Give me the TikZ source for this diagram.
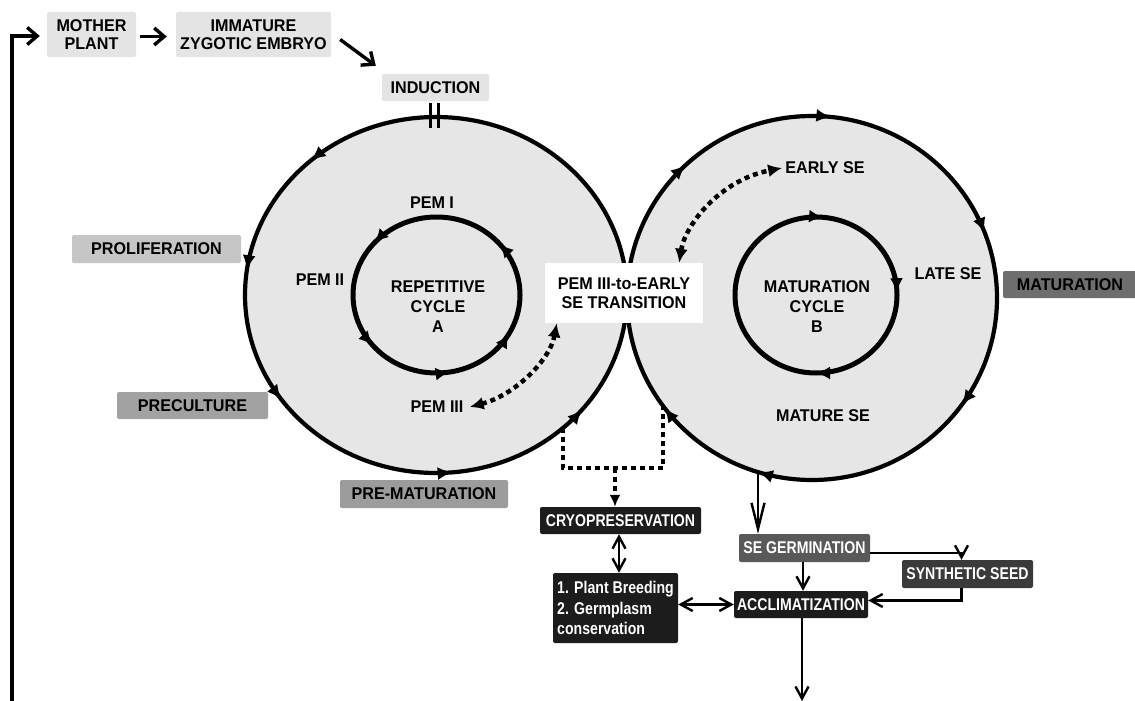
\documentclass[tikz,border=0pt]{standalone}
\usepackage{fontspec}
\setmainfont{Liberation Sans}
\newfontfamily\labfont[FakeStretch=0.95]{Liberation Sans}
\newfontfamily\boxfont[FakeStretch=0.83]{Liberation Sans}
\usetikzlibrary{arrows.meta,calc}
\definecolor{circfill}{HTML}{E6E6E6}
\definecolor{lightbox}{HTML}{E4E4E4}
\definecolor{proliffill}{HTML}{C6C6C6}
\definecolor{precfill}{HTML}{A2A2A2}
\definecolor{prematfill}{HTML}{9C9C9C}
\definecolor{matfill}{HTML}{6E6E6E}
\definecolor{germfill}{HTML}{595959}
\definecolor{synthfill}{HTML}{3A3A3A}
\definecolor{boxblack}{HTML}{1C1C1C}
\newcommand\carr[6]{\draw[carrow] ([shift={(#1,#2)}]#5:#3 and #4) arc[start angle=#5, end angle=#6, x radius=#3, y radius=#4];}
\newcommand\icarr[6]{\draw[icarrow] ([shift={(#1,#2)}]#5:#3 and #4) arc[start angle=#5, end angle=#6, x radius=#3, y radius=#4];}
\tikzset{
 lab/.style={font={\labfont\fontsize{17}{20}\selectfont\bfseries}, align=center, inner sep=0pt},
 gbox/.style={lab, rounded corners=2pt, minimum height=27pt},
 dbox/.style={font={\boxfont\fontsize{17}{20}\selectfont\bfseries}, text=white, rounded corners=2pt, inner sep=0pt, align=center},
 outring/.style={line width=4.2pt},
 inring/.style={line width=5pt},
 carrow/.style={line width=3pt, -{Latex[length=15pt,width=13pt]}},
 icarrow/.style={line width=3pt, -{Latex[length=14pt,width=13pt]}},
 dotline/.style={line width=4.5pt, dash pattern=on 5pt off 4pt},
 conn/.style={line width=2.4pt},
 barb/.style={-{Straight Barb[length=12pt,width=13pt,line width=2.4pt]}},
 dbarb/.style={{Straight Barb[length=12pt,width=13pt,line width=2.4pt]}-{Straight Barb[length=12pt,width=13pt,line width=2.4pt]}},
 bigconn/.style={line width=3.4pt, -{Straight Barb[length=10pt,width=17pt,line width=3.4pt]}}
}
\begin{document}
\begin{tikzpicture}[x=1pt,y=-1pt]
\useasboundingbox (0,0) rectangle (1135,701);
\fill[white] (0,0) rectangle (1135,701);

% circles
\fill[circfill] (436,295) ellipse [x radius=191, y radius=178];
\fill[circfill] (812,298) ellipse [x radius=185, y radius=182];
\draw[outring] (436,295) ellipse [x radius=191, y radius=178];
\draw[outring] (812,298) ellipse [x radius=185, y radius=182];
\draw[inring] (436.5,295) ellipse [x radius=83.5, y radius=78];
\draw[inring] (816,295) ellipse [x radius=81, y radius=78];

% arrows on left outer circle (counterclockwise on screen)
\carr{436}{295}{191}{178}{239}{229}
\carr{436}{295}{191}{178}{198}{188}
\carr{436}{295}{191}{178}{154}{144}
\carr{436}{295}{191}{178}{95}{85}
\carr{436}{295}{191}{178}{50}{40}
% arrows on right outer circle (clockwise on screen)
\carr{812}{298}{185}{182}{217}{227}
\carr{812}{298}{185}{182}{266}{276}
\carr{812}{298}{185}{182}{329}{339}
\carr{812}{298}{185}{182}{26}{36}
\carr{812}{298}{185}{182}{97}{107}
\carr{812}{298}{185}{182}{133}{143}
% inner circle A (counterclockwise)
\icarr{436.5}{295}{83.5}{78}{238}{222}
\icarr{436.5}{295}{83.5}{78}{335}{319}
\icarr{436.5}{295}{83.5}{78}{156}{140}
\icarr{436.5}{295}{83.5}{78}{97}{81}
\icarr{436.5}{295}{83.5}{78}{46}{30}
% inner circle B (clockwise)
\icarr{816}{295}{81}{78}{259}{275}
\icarr{816}{295}{81}{78}{342}{358}
\icarr{816}{295}{81}{78}{74}{90}

% induction mark
\draw[line width=3pt] (430,103) -- (430,128) (438,103) -- (438,128);

% top boxes
\node[gbox, fill=lightbox, minimum width=89pt, minimum height=45pt, font={\labfont\fontsize{17}{18.5}\selectfont\bfseries}] (mother) at (91.5,34.5) {MOTHER\\PLANT};
\node[gbox, fill=lightbox, minimum width=155pt, minimum height=45pt, font={\labfont\fontsize{17}{18.5}\selectfont\bfseries}] (immature) at (253.5,34.5) {IMMATURE\\ZYGOTIC EMBRYO};
\node[gbox, fill=lightbox, minimum width=107pt] (induction) at (435.5,87.5) {INDUCTION};

% side labels
\node[gbox, fill=proliffill, minimum width=169pt, minimum height=28pt] (prolif) at (156.5,249) {PROLIFERATION};
\node[gbox, fill=precfill, minimum width=151pt] (precult) at (192.5,405.5) {PRECULTURE};
\node[gbox, fill=prematfill, minimum width=168pt, minimum height=28pt] (premat) at (424,494) {PRE-MATURATION};
\node[gbox, fill=matfill, minimum width=134pt] (matur) at (1070,284.5) {MATURATION};

% inner texts
\node[lab] (pem1) at (432,203) {PEM I};
\node[lab] (pem2) at (320,280) {PEM II};
\node[lab] (cycA) at (438,307) {REPETITIVE\\CYCLE\\A};
\node[lab] (pem3) at (437,407) {PEM III};
\node[lab] (early) at (825,168) {EARLY SE};
\node[lab] (late) at (948,274) {LATE SE};
\node[lab] (cycB) at (817,307) {MATURATION\\CYCLE\\B};
\node[lab] (mature) at (823,416) {MATURE SE};

% transition box
\node[lab, fill=white, minimum width=158pt, minimum height=60pt, font={\labfont\fontsize{17}{19}\selectfont\bfseries}] (trans) at (624,293) {PEM III-to-EARLY\\SE TRANSITION};

% dotted double arrows
\draw[dotline, {Latex[length=14pt,width=13pt]}-{Latex[length=14pt,width=13pt]}] ([xshift=6pt]pem3.east) .. controls (515,395) and (550,360) .. ($(trans.south west)+(12,0)$);
\draw[dotline, {Latex[length=14pt,width=13pt]}-{Latex[length=14pt,width=13pt]}] ($(trans.north east)+(-24,0)$) .. controls (685,225) and (720,180) .. ([xshift=-3pt]early.west);

% lower boxes
\node[dbox, fill=boxblack, minimum width=161pt, minimum height=27pt] (cryo) at (620.5,520.5) {CRYOPRESERVATION};
\node[dbox, fill=boxblack, minimum width=125pt, minimum height=70pt, align=left, font={\boxfont\fontsize{17}{20.5}\selectfont\bfseries}] (breed) at (615.5,608) {1. Plant Breeding\\2. Germplasm\\conservation};
\node[dbox, fill=germfill, minimum width=131pt, minimum height=28pt] (germ) at (804.5,548) {SE GERMINATION};
\node[dbox, fill=synthfill, minimum width=131pt, minimum height=28pt] (synth) at (967.5,574) {SYNTHETIC SEED};
\node[dbox, fill=boxblack, minimum width=134pt, minimum height=27pt] (accl) at (801,604.5) {ACCLIMATIZATION};

% dashed bracket to cryopreservation
\coordinate (bl) at (563,428);
\coordinate (br) at (663,406);
\coordinate (bmid) at (615,468);
\draw[dotline] (bl) -- (563,468) -- (663,468) -- (br);
\draw[dotline, -{Latex[length=12pt,width=11pt]}] (bmid) -- (bmid |- cryo.north);

% connectors
\coordinate (loopbot) at (12,703);
\draw[bigconn] (loopbot) |- ([xshift=-7pt,yshift=-1.5pt]mother.west);
\draw[bigconn] ([xshift=4pt,yshift=-2pt]mother.east) -- ([xshift=-9pt,yshift=-2pt]immature.west);
\draw[bigconn] ($(immature.east)+(9,5)$) -- ($(induction.north west)+(-6,-8)$);

\draw[dbarb, conn] ([xshift=-1.5pt]cryo.south) -- ([xshift=-1.5pt]cryo.south |- breed.north);
\draw[dbarb, conn] (breed.east |- accl.west) -- (accl.west);

\coordinate (cbot) at (758,472);
\draw[conn, -{Straight Barb[length=26pt,width=13pt,line width=2.4pt]}] (cbot) -- (cbot |- germ.north);
\draw[conn, barb] ([xshift=-1.5pt]germ.south) -- ([xshift=-1.5pt]germ.south |- accl.north);
\draw[conn, barb] ([yshift=-5pt]germ.east) -| ([xshift=-6pt]synth.north);
\draw[conn, barb] ([xshift=-6pt]synth.south) |- ([yshift=4pt]accl.east);
\coordinate (endbot) at (802,701);
\draw[conn, barb] ([xshift=1pt]accl.south) -- ([xshift=1pt]accl.south |- endbot);
\end{tikzpicture}
\end{document}
